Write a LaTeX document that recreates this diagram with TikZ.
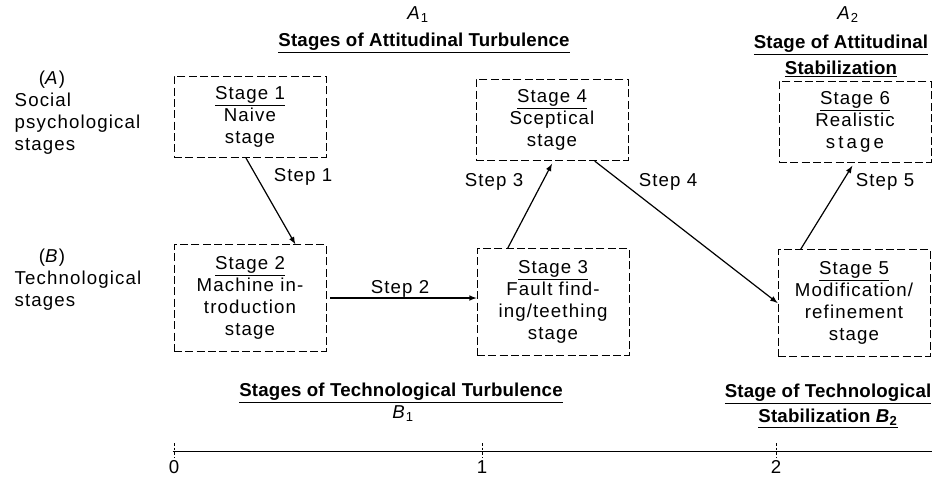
\documentclass[tikz,border=0pt]{standalone}
\usepackage{fontspec}
\setmainfont[LetterSpace=6]{Liberation Sans}
\newfontfamily\headfont[LetterSpace=1]{Liberation Sans}

\begin{document}
\begin{tikzpicture}[x=0.75pt, y=-0.75pt,
                    >=latex,
                    every node/.style={font=\fontsize{14}{16.5}\selectfont},
                    stagebox/.style={draw, dash pattern=on 6pt off 2.5pt, line width=0.6pt, align=center, minimum width=114pt, inner sep=0pt},
                    topbox/.style={stagebox, minimum height=61pt},
                    lowbox/.style={stagebox, minimum height=80pt},
                    heading/.style={font=\headfont\bfseries\fontsize{14}{19}\selectfont, align=center},
                    ra/.style={->, line width=0.9pt}]

\useasboundingbox (0,0) rectangle (937,478);

% row labels
\node [align=left, anchor=north west] (rowA) at (10,66) {\hspace{1.3em}(\textit{A})\\Social\\psychological\\stages};
\node [align=left, anchor=north west] (rowB) at (10,244) {\hspace{1.3em}(\textit{B})\\Technological\\stages};

% headings
\node (a1) at (418,15) {\textit{A}\textsubscript{1}};
\node [heading] (turbA) at (424,43) {\underline{Stages of Attitudinal Turbulence}};
\node (a2) at (848,15) {\textit{A}\textsubscript{2}};
\node [heading] (stabA) at (841,56) {\underline{Stage of Attitudinal}\\\underline{Stabilization}};

% stages
\node [topbox] (s1) at (250,117) {\underline{Stage 1}\\Naive\\stage};
\node [lowbox] (s2) at (250,298) {\underline{Stage 2}\\Machine in-\\troduction\\stage};
\node [lowbox] (s3) at (553,302) {\underline{Stage 3}\\Fault find-\\ing/teething\\stage};
\node [topbox] (s4) at (552,120) {\underline{Stage 4}\\Sceptical\\stage};
\node [lowbox] (s5) at (854,303) {\underline{Stage 5}\\Modification/\\refinement\\stage};
\node [topbox] (s6) at (855,122) {\underline{Stage 6}\\Realistic\\s\,t\,a\,g\,e};

% steps
\draw [ra] ([xshift=-3pt]s1.south) -- ([xshift=34pt]s2.north);
\draw [ra] ([xshift=3pt]s2.east) -- (s2.east -| s3.west);
\draw [ra] ([xshift=-34pt]s3.north) -- ([yshift=-2pt]s4.south);
\draw [ra] ([xshift=32pt]s4.south) -- (s5.west);
\draw [ra] ([xshift=-40pt]s5.north) -- ([xshift=-2pt, yshift=-2pt]s6.south);

\node (st1) at (303,177) {Step 1};
\node (st2) at (400,289) {Step 2};
\node (st3) at (494,182) {Step 3};
\node (st4) at (668,182) {Step 4};
\node (st5) at (885,182) {Step 5};

% bottom headings
\node [heading] (turbB) at (401,393) {\underline{Stages of Technological Turbulence}};
\node (b1) at (403,414) {\textit{B}\textsubscript{1}};
\node [heading] (stabB) at (828,406) {\underline{Stage of Technological}\\\underline{Stabilization \textit{B}\textsubscript{2}}};

% time axis
\coordinate (k0) at (174,451);
\coordinate (k1) at (482,451);
\coordinate (k2) at (776,451);
\coordinate (kend) at (932,451);
\draw [line width=0.6pt] ([xshift=-1pt]k0) -- (kend);
\foreach \k in {k0,k1,k2}
  \draw [dash pattern=on 2pt off 1.5pt, line width=0.5pt] ([yshift=6pt]\k) -- ([yshift=-5pt]\k);
\node (n0) at (174,467) {0};
\node (n1) at (482,467) {1};
\node (n2) at (776,467) {2};

\end{tikzpicture}
\end{document}
